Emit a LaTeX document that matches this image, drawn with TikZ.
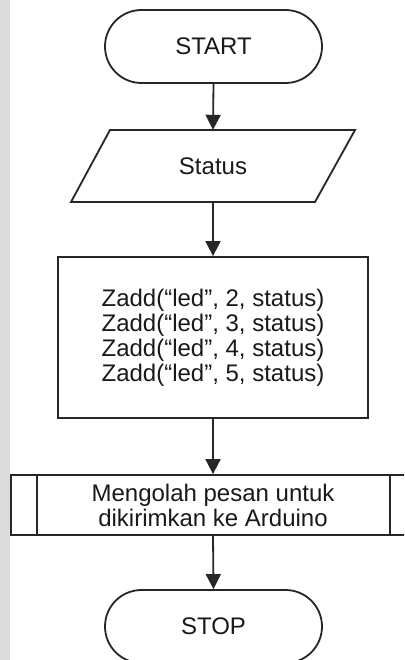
\documentclass[tikz,border=0pt]{standalone}
\usepackage{fontspec}
\setmainfont{Liberation Sans}
\usetikzlibrary{shapes.misc,arrows.meta}

\tikzset{
  flowline/.style={line width=1.8pt, draw=black!85},
  terminal/.style={flowline, rounded rectangle, minimum width=217pt,
    minimum height=73pt, inner sep=0pt},
  plainbox/.style={flowline, rectangle, inner sep=0pt},
  textonly/.style={rectangle, inner sep=0pt, align=center},
  flowarrow/.style={flowline, -{Triangle[length=15pt,width=15pt]}},
  lbl/.style={font=\fontsize{24pt}{25pt}\selectfont, text=black!90}
}

\begin{document}
\begin{tikzpicture}[x=1pt, y=-1pt]
  \useasboundingbox (0,0) rectangle (404,660);
  \clip (0,0) rectangle (404,660);
  \fill[white] (0,0) rectangle (404,660);
  \fill[gray!28] (0,0) rectangle (10,660);

  % START terminal
  \node[terminal, lbl] (start) at (213.5,46.5) {START};

  % input/output parallelogram
  \draw[flowline] (110,130) -- (355,130) -- (315,202) -- (71,202) -- cycle;
  \node[textonly, lbl, minimum width=244pt, minimum height=72pt] (io)
    at (213,166) {Status};

  % process box
  \node[plainbox, lbl, align=center, minimum width=310pt,
    minimum height=161pt] (proc) at (213,337.5)
    {Zadd(“led”, 2, status)\\Zadd(“led”, 3, status)\\
     Zadd(“led”, 4, status)\\Zadd(“led”, 5, status)};

  % predefined process
  \node[plainbox, lbl, align=center, minimum width=404pt,
    minimum height=60pt] (sub) at (213,505)
    {Mengolah pesan untuk\\dikirimkan ke Arduino};
  \draw[flowline] ([xshift=27pt]sub.north west) -- ([xshift=27pt]sub.south west);
  \draw[flowline] ([xshift=-26pt]sub.north east) -- ([xshift=-26pt]sub.south east);

  % STOP terminal
  \node[terminal, lbl] (stop) at (213.5,626.5) {STOP};

  % connectors
  \draw[flowarrow] (start.south) -- (io.north);
  \draw[flowarrow] (io.south) -- (proc.north);
  \draw[flowarrow] (proc.south) -- (sub.north);
  \draw[flowarrow] (sub.south) -- (stop.north);
\end{tikzpicture}
\end{document}
